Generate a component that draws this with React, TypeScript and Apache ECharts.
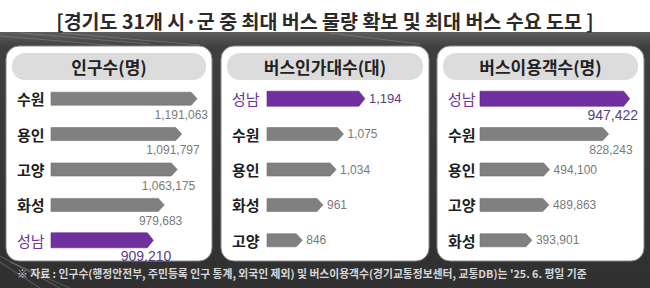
import React, { useEffect, useRef } from 'react';
import * as echarts from 'echarts';

const TITLE = '[경기도 31개 시·군 중 최대 버스 물량 확보 및 최대 버스 수요 도모 ]';
const FOOTNOTE = "※ 자료 : 인구수(행정안전부, 주민등록 인구 통계, 외국인 제외) 및 버스이용객수(경기교통정보센터, 교통DB)는 '25. 6. 평일 기준";
const HIGHLIGHT = '성남';

const populationTitle = '인구수(명)';
const populationCities = ['수원', '용인', '고양', '화성', '성남'];
const populationValues = [1191063, 1091797, 1063175, 979683, 909210];

const busTitle = '버스인가대수(대)';
const busCities = ['성남', '수원', '용인', '화성', '고양'];
const busValues = [1194, 1075, 1034, 961, 846];

const riderTitle = '버스이용객수(명)';
const riderCities = ['성남', '수원', '용인', '고양', '화성'];
const riderValues = [947422, 828243, 494100, 489863, 393901];

const KR = '"Noto Sans CJK KR", "Noto Sans", sans-serif';
const NUM = '"Liberation Sans", Arial, sans-serif';
const PURPLE = '#7030a0';
const GRAY_BAR = '#808080';

type Panel = {
  title: string;
  cities: string[];
  values: number[];
  x: number;
  w: number;
  gridLeft: number;
  gridRightEdge: number;
  min: number;
  max: number;
  mode: (i: number) => 'below' | 'right';
  offset: number;
  clamp: number;
};

const panels: Panel[] = [
  {
    title: populationTitle, cities: populationCities, values: populationValues,
    x: 6, w: 206, gridLeft: 51, gridRightEdge: 214, min: 250000, max: 1300000,
    mode: () => 'below', offset: 18, clamp: 208,
  },
  {
    title: busTitle, cities: busCities, values: busValues,
    x: 221, w: 208, gridLeft: 267, gridRightEdge: 384, min: 650, max: 1300,
    mode: () => 'right', offset: 0, clamp: 0,
  },
  {
    title: riderTitle, cities: riderCities, values: riderValues,
    x: 437, w: 207, gridLeft: 480, gridRightEdge: 639, min: 100000, max: 1000000,
    mode: (i) => (i < 2 ? 'below' : 'right'), offset: 24, clamp: 638,
  },
];

const fmt = (v: number) => v.toLocaleString('en-US');

export default function App() {
  const ref = useRef<HTMLDivElement>(null);
  useEffect(() => {
    document.body.style.margin = '0';
    if (!ref.current) return;
    const chart = echarts.init(ref.current, null, { renderer: 'svg' });

    const graphics: any[] = [];
    graphics.push({
      type: 'rect', silent: true, z: -10,
      shape: { x: 0, y: 32, width: 650, height: 256 },
      style: {
        fill: new echarts.graphic.LinearGradient(0, 0, 0, 1, [
          { offset: 0, color: '#5e5e5e' },
          { offset: 0.06, color: '#3f3f3f' },
          { offset: 1, color: '#303030' },
        ]),
      },
    });
    const streaks = [
      [0, 36, 120, 46], [20, 33, 150, 44], [60, 33, 200, 45], [330, 33, 420, 44],
      [0, 262, 40, 288], [0, 256, 60, 288], [10, 262, 70, 288],
    ];
    streaks.forEach(([x1, y1, x2, y2]) => {
      graphics.push({
        type: 'line', silent: true, z: -9,
        shape: { x1, y1, x2, y2 },
        style: { stroke: 'rgba(200,200,200,0.25)', lineWidth: 1.2 },
      });
    });
    graphics.push({
      type: 'text', silent: true,
      style: {
        text: TITLE, x: 325, y: 20, textAlign: 'center', textVerticalAlign: 'middle',
        align: 'center', verticalAlign: 'middle',
        font: `bold 19.5px ${KR}`, fill: '#2a2a2a',
      },
    });
    panels.forEach((p) => {
      graphics.push({
        type: 'rect', silent: true, z: -5,
        shape: { x: p.x, y: 46, width: p.w, height: 215, r: 13 },
        style: { fill: '#ffffff', stroke: '#8a8a8a', lineWidth: 1 },
      });
      graphics.push({
        type: 'rect', silent: true, z: -4,
        shape: { x: p.x + 6, y: 53, width: p.w - 12, height: 27, r: 13 },
        style: { fill: '#dcdcdc' },
      });
      graphics.push({
        type: 'text', silent: true, z: -3,
        style: {
          text: p.title, x: p.x + p.w / 2, y: 66.5, textAlign: 'center', textVerticalAlign: 'middle',
          align: 'center', verticalAlign: 'middle',
          font: `bold 17px ${KR}`, fill: '#222',
        },
      });
    });
    graphics.push({
      type: 'text', silent: true,
      style: {
        text: FOOTNOTE, x: 17, y: 273, textAlign: 'left', textVerticalAlign: 'middle',
        align: 'left', verticalAlign: 'middle',
        font: `bold 10.8px ${KR}`, fill: '#d8d8d8',
      },
    });

    const grid = panels.map((p) => ({
      left: p.gridLeft, right: 650 - p.gridRightEdge, top: 81, bottom: 30, containLabel: false,
    }));
    const xAxis = panels.map((p, i) => ({
      type: 'value', gridIndex: i, min: p.min, max: p.max, show: false,
    }));
    const yAxis = panels.map((p, i) => ({
      type: 'category', gridIndex: i, inverse: true, data: p.cities,
      axisLine: { show: false }, axisTick: { show: false }, splitLine: { show: false },
      axisLabel: {
        margin: p.gridLeft - p.x - 11, align: 'left',
        formatter: (v: string) => (v === HIGHLIGHT ? `{h|${v}}` : `{n|${v}}`),
        rich: {
          n: { fontFamily: KR, fontSize: 15, fontWeight: 'bold', color: '#1e1e1e' },
          h: { fontFamily: KR, fontSize: 15, fontWeight: 'normal', color: PURPLE },
        },
      },
    }));

    const series = panels.map((p, pi) => ({
      type: 'custom', xAxisIndex: pi, yAxisIndex: pi,
      encode: { x: 0, y: 1 },
      data: p.values.map((v, i) => [v, i]),
      renderItem: (params: any, api: any) => {
        const v = api.value(0);
        const idx = api.value(1);
        const hl = p.cities[idx] === HIGHLIGHT;
        const end = api.coord([v, idx]);
        const start = api.coord([p.min, idx]);
        const h = hl ? 15 : 13;
        const tip = 6;
        const x0 = start[0];
        const x1 = end[0];
        const y = end[1];
        const mode = p.mode(idx);
        let text: any;
        if (mode === 'below') {
          text = {
            type: 'text',
            style: {
              text: fmt(v), x: Math.min(x1 + p.offset, p.clamp), y: y + 16,
              align: 'right', verticalAlign: 'middle',
              fontFamily: NUM, fontSize: hl ? 14 : 12,
              fill: hl ? '#5a3d86' : '#7a7a7a',
            },
          };
        } else {
          text = {
            type: 'text',
            style: {
              text: fmt(v), x: x1 + 4, y,
              align: 'left', verticalAlign: 'middle',
              fontFamily: NUM, fontSize: hl ? 13 : 12,
              fill: hl ? '#5a3d86' : '#7a7a7a',
            },
          };
        }
        return {
          type: 'group',
          children: [
            {
              type: 'polygon',
              shape: {
                points: [
                  [x0, y - h / 2], [x1 - tip, y - h / 2], [x1, y],
                  [x1 - tip, y + h / 2], [x0, y + h / 2],
                ],
              },
              style: { fill: hl ? PURPLE : GRAY_BAR, stroke: hl ? '#5d2489' : '#6f6f6f', lineWidth: 0.6 },
            },
            text,
          ],
        };
      },
    }));

    chart.setOption({
      animation: false,
      backgroundColor: '#ffffff',
      graphic: { elements: graphics },
      grid, xAxis, yAxis, series,
    });
    return () => chart.dispose();
  }, []);
  return <div ref={ref} style={{ position: 'absolute', left: 0, top: 0, width: 650, height: 288 }} />;
}
